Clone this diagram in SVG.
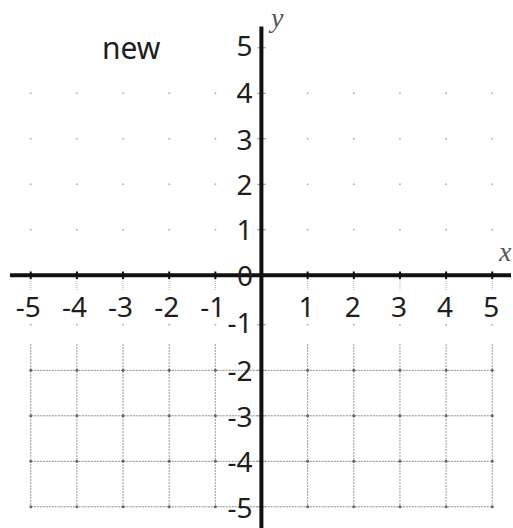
<svg xmlns="http://www.w3.org/2000/svg" width="513" height="528" viewBox="0 0 513 528">
<style>
.bg{fill:#ffffff}
.gv{stroke:#9c9c9c;stroke-width:1;stroke-dasharray:2 1;fill:none}
.gh{stroke:#8a8a8a;stroke-width:1;stroke-dasharray:2 1;fill:none}
.tk{stroke:#b0b0b0;stroke-width:1;stroke-dasharray:1 1;fill:none}
.dl{fill:#666666}
.du{fill:#b5b5b5}
.ax{stroke:#111111;stroke-width:4;fill:none}
.at{stroke:#111111;stroke-width:2}
.yt{stroke:#999999;stroke-width:1}
.num{font-family:"Noto Sans","DejaVu Sans",sans-serif;font-size:28px;fill:#1e1e1e}
.xl{text-anchor:middle}
.yl{text-anchor:end}
.title{font-family:"Noto Sans","DejaVu Sans",sans-serif;font-size:30px;fill:#1e1e1e}
.var{font-family:"Liberation Serif","DejaVu Serif",serif;font-style:italic;font-size:28px;fill:#555555}
</style>
<rect class="bg" x="0" y="0" width="513" height="528"/>
<g id="lower-grid">
<path class="gv" d="M30.75 344V506.8M76.9 344V506.8M123.05 344V506.8M169.2 344V506.8M215.35 344V506.8M307.65 344V506.8M353.8 344V506.8M399.95 344V506.8M446.1 344V506.8M492.25 344V506.8"/>
<path class="gh" d="M30.75 370.3H492.25M30.75 415.8H492.25M30.75 461.3H492.25M30.75 506.8H492.25"/>
<path class="tk" d="M30.75 277V290M76.9 277V290M123.05 277V290M169.2 277V290M215.35 277V290M307.65 277V290M353.8 277V290M399.95 277V290M446.1 277V290M492.25 277V290"/>
<g class="dl">
<circle cx="30.75" cy="370.3" r="1.5"/><circle cx="76.9" cy="370.3" r="1.5"/><circle cx="123.05" cy="370.3" r="1.5"/><circle cx="169.2" cy="370.3" r="1.5"/><circle cx="215.35" cy="370.3" r="1.5"/><circle cx="307.65" cy="370.3" r="1.5"/><circle cx="353.8" cy="370.3" r="1.5"/><circle cx="399.95" cy="370.3" r="1.5"/><circle cx="446.1" cy="370.3" r="1.5"/><circle cx="492.25" cy="370.3" r="1.5"/>
<circle cx="30.75" cy="415.8" r="1.5"/><circle cx="76.9" cy="415.8" r="1.5"/><circle cx="123.05" cy="415.8" r="1.5"/><circle cx="169.2" cy="415.8" r="1.5"/><circle cx="215.35" cy="415.8" r="1.5"/><circle cx="307.65" cy="415.8" r="1.5"/><circle cx="353.8" cy="415.8" r="1.5"/><circle cx="399.95" cy="415.8" r="1.5"/><circle cx="446.1" cy="415.8" r="1.5"/><circle cx="492.25" cy="415.8" r="1.5"/>
<circle cx="30.75" cy="461.3" r="1.5"/><circle cx="76.9" cy="461.3" r="1.5"/><circle cx="123.05" cy="461.3" r="1.5"/><circle cx="169.2" cy="461.3" r="1.5"/><circle cx="215.35" cy="461.3" r="1.5"/><circle cx="307.65" cy="461.3" r="1.5"/><circle cx="353.8" cy="461.3" r="1.5"/><circle cx="399.95" cy="461.3" r="1.5"/><circle cx="446.1" cy="461.3" r="1.5"/><circle cx="492.25" cy="461.3" r="1.5"/>
<circle cx="30.75" cy="506.8" r="1.5"/><circle cx="76.9" cy="506.8" r="1.5"/><circle cx="123.05" cy="506.8" r="1.5"/><circle cx="169.2" cy="506.8" r="1.5"/><circle cx="215.35" cy="506.8" r="1.5"/><circle cx="307.65" cy="506.8" r="1.5"/><circle cx="353.8" cy="506.8" r="1.5"/><circle cx="399.95" cy="506.8" r="1.5"/><circle cx="446.1" cy="506.8" r="1.5"/><circle cx="492.25" cy="506.8" r="1.5"/>
</g>
<g class="du">
<circle cx="30.75" cy="324.8" r="1"/><circle cx="76.9" cy="324.8" r="1"/><circle cx="123.05" cy="324.8" r="1"/><circle cx="169.2" cy="324.8" r="1"/><circle cx="215.35" cy="324.8" r="1"/><circle cx="307.65" cy="324.8" r="1"/><circle cx="353.8" cy="324.8" r="1"/><circle cx="399.95" cy="324.8" r="1"/><circle cx="446.1" cy="324.8" r="1"/><circle cx="492.25" cy="324.8" r="1"/>
</g>
</g>
<g id="upper-dots" class="du">
<circle cx="30.75" cy="93.3" r="1"/><circle cx="76.9" cy="93.3" r="1"/><circle cx="123.05" cy="93.3" r="1"/><circle cx="169.2" cy="93.3" r="1"/><circle cx="215.35" cy="93.3" r="1"/><circle cx="307.65" cy="93.3" r="1"/><circle cx="353.8" cy="93.3" r="1"/><circle cx="399.95" cy="93.3" r="1"/><circle cx="446.1" cy="93.3" r="1"/><circle cx="492.25" cy="93.3" r="1"/>
<circle cx="30.75" cy="138.8" r="1"/><circle cx="76.9" cy="138.8" r="1"/><circle cx="123.05" cy="138.8" r="1"/><circle cx="169.2" cy="138.8" r="1"/><circle cx="215.35" cy="138.8" r="1"/><circle cx="307.65" cy="138.8" r="1"/><circle cx="353.8" cy="138.8" r="1"/><circle cx="399.95" cy="138.8" r="1"/><circle cx="446.1" cy="138.8" r="1"/><circle cx="492.25" cy="138.8" r="1"/>
<circle cx="30.75" cy="184.3" r="1"/><circle cx="76.9" cy="184.3" r="1"/><circle cx="123.05" cy="184.3" r="1"/><circle cx="169.2" cy="184.3" r="1"/><circle cx="215.35" cy="184.3" r="1"/><circle cx="307.65" cy="184.3" r="1"/><circle cx="353.8" cy="184.3" r="1"/><circle cx="399.95" cy="184.3" r="1"/><circle cx="446.1" cy="184.3" r="1"/><circle cx="492.25" cy="184.3" r="1"/>
<circle cx="30.75" cy="229.8" r="1"/><circle cx="76.9" cy="229.8" r="1"/><circle cx="123.05" cy="229.8" r="1"/><circle cx="169.2" cy="229.8" r="1"/><circle cx="215.35" cy="229.8" r="1"/><circle cx="307.65" cy="229.8" r="1"/><circle cx="353.8" cy="229.8" r="1"/><circle cx="399.95" cy="229.8" r="1"/><circle cx="446.1" cy="229.8" r="1"/><circle cx="492.25" cy="229.8" r="1"/>
</g>
<g id="y-ticks">
<path class="yt" d="M257 47.8H266M257 93.3H266M257 138.8H266M257 184.3H266M257 229.8H266M257 324.8H266M257 370.3H266M257 415.8H266M257 461.3H266M257 506.8H266"/>
</g>
<g id="axes">
<line id="x-axis" class="ax" x1="10" y1="275.3" x2="511" y2="275.3"/>
<line id="y-axis" class="ax" x1="261.4" y1="26.5" x2="261.4" y2="528"/>
<path class="at" d="M30.75 271.5V279M76.9 271.5V279M123.05 271.5V279M169.2 271.5V279M215.35 271.5V279M307.65 271.5V279M353.8 271.5V279M399.95 271.5V279M446.1 271.5V279M492.25 271.5V279"/>
</g>
<g id="x-labels" class="num xl">
<text x="28.2" y="317">-5</text>
<text x="74.4" y="317">-4</text>
<text x="120.5" y="317">-3</text>
<text x="166.7" y="317">-2</text>
<text x="212.8" y="317">-1</text>
<text x="306.6" y="317">1</text>
<text x="352.8" y="317">2</text>
<text x="398.9" y="317">3</text>
<text x="445.1" y="317">4</text>
<text x="491.2" y="317">5</text>
</g>
<g id="y-labels" class="num yl">
<text x="252.5" y="56">5</text>
<text x="252.5" y="103">4</text>
<text x="252.5" y="150">3</text>
<text x="252.5" y="195">2</text>
<text x="252.5" y="240">1</text>
<text x="253" y="286">0</text>
<text x="252.5" y="333">-1</text>
<text x="252.5" y="381">-2</text>
<text x="252.5" y="427">-3</text>
<text x="252.5" y="472">-4</text>
<text x="252.5" y="518">-5</text>
</g>
<text id="title" class="title" x="102" y="59">new</text>
<text id="y-name" class="var" x="271" y="27">y</text>
<text id="x-name" class="var" x="499" y="261">x</text>
</svg>
